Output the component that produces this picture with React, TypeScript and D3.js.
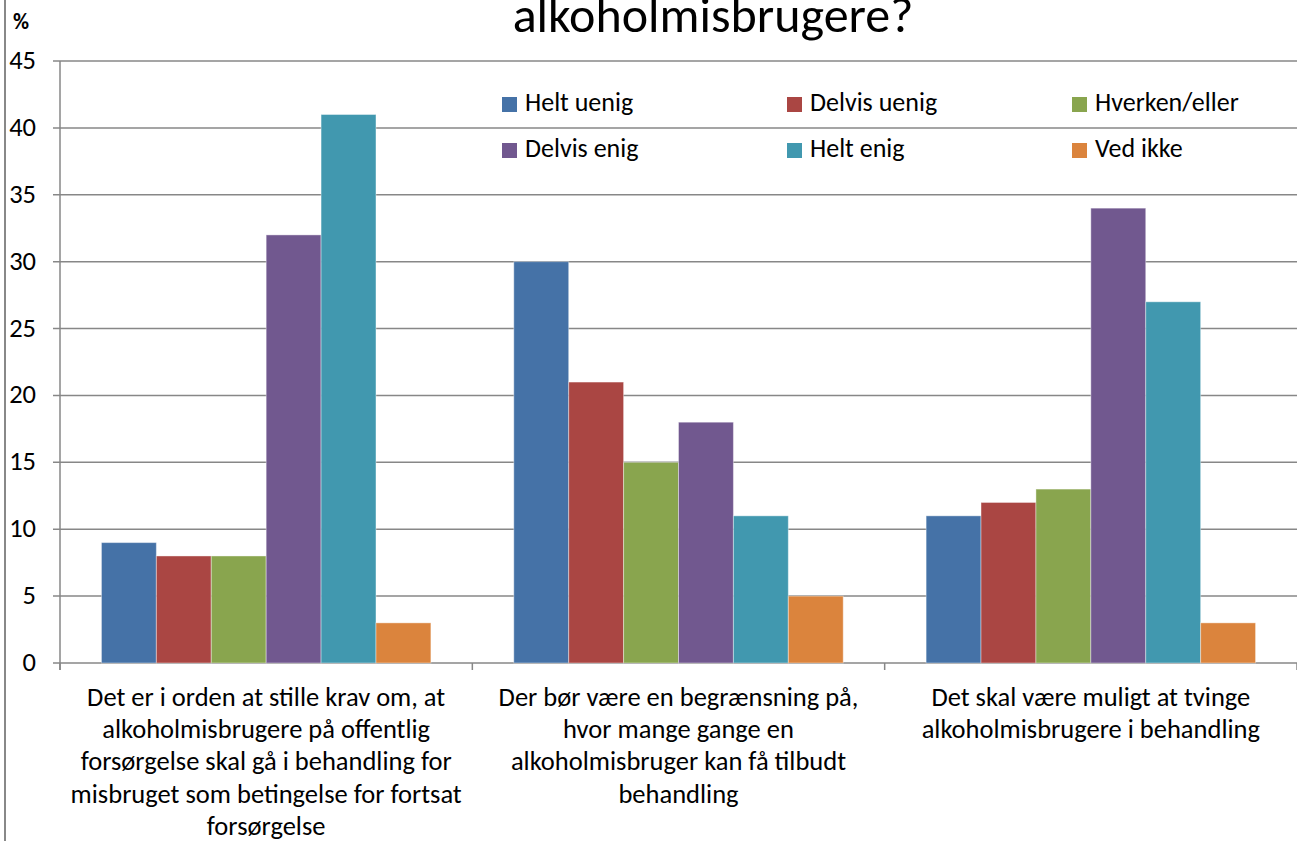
import * as d3 from "d3";

const categories = [
  ["Det er i orden at stille krav om, at", "alkoholmisbrugere på offentlig", "forsørgelse skal gå i behandling for", "misbruget som betingelse for fortsat", "forsørgelse"],
  ["Der bør være en begrænsning på,", "hvor mange gange en", "alkoholmisbruger kan få tilbudt", "behandling"],
  ["Det skal være muligt at tvinge", "alkoholmisbrugere i behandling"],
];
const seriesNames = ["Helt uenig", "Delvis uenig", "Hverken/eller", "Delvis enig", "Helt enig", "Ved ikke"];
const helt_uenig = [9, 30, 11];
const delvis_uenig = [8, 21, 12];
const hverken = [8, 15, 13];
const delvis_enig = [32, 18, 34];
const helt_enig = [41, 11, 27];
const ved_ikke = [3, 5, 3];
const seriesValues = [helt_uenig, delvis_uenig, hverken, delvis_enig, helt_enig, ved_ikke];
const colors = ["#4572A7", "#AA4643", "#89A54E", "#71588F", "#4198AF", "#DB843D"];
const yTicks = [0, 5, 10, 15, 20, 25, 30, 35, 40, 45];

const W = 1297, H = 841;
const left = 60, right = 1297, top = 61, bottom = 663;
const font = "Carlito, 'Noto Sans', 'Open Sans', sans-serif";

export default function App() {
  const x0 = d3.scaleBand<number>().domain(d3.range(categories.length)).range([left, right]);
  const x1 = d3.scaleBand<number>().domain(d3.range(seriesNames.length)).range([0, x0.bandwidth()]).paddingOuter(0.755);
  const y = d3.scaleLinear().domain([0, 45]).range([bottom, top]);

  // legend layout
  const legendCols = [502, 787, 1072];
  const legendRows = [111, 157];

  return (
    <svg width={W} height={H} style={{ position: "fixed", left: 0, top: 0, background: "#fff" }} fontFamily={font}>
      <line x1={5} x2={5} y1={0} y2={H} stroke="#888" strokeWidth={2} />
      <text x={713} y={32} fontSize={50} textAnchor="middle" fill="#000">alkoholmisbrugere?</text>
      <text x={13} y={29} fontSize={22} fontWeight="bold" fill="#000">%</text>

      {yTicks.map((t) => (
        <g key={t}>
          <line x1={53} x2={right} y1={y(t)} y2={y(t)} stroke="#878787" strokeWidth={1.5} />
          <text x={36} y={y(t) + 8} fontSize={26.5} textAnchor="end" fill="#000">{t}</text>
        </g>
      ))}
      <line x1={left} x2={left} y1={top} y2={bottom + 7} stroke="#878787" strokeWidth={1.5} />
      {[0, 1, 2, 3].map((i) => {
        const xx = i < 3 ? (x0(i) as number) : right;
        return <line key={i} x1={xx} x2={xx} y1={bottom} y2={bottom + 7} stroke="#878787" strokeWidth={1.5} />;
      })}

      {seriesValues.map((vals, s) =>
        vals.map((v, c) => (
          <rect
            key={`${s}-${c}`}
            x={(x0(c) as number) + (x1(s) as number)}
            y={y(v)}
            width={x1.bandwidth()}
            height={bottom - y(v)}
            fill={colors[s]}
            stroke="#ffffff"
            strokeOpacity={0.4}
            strokeWidth={1}
          />
        ))
      )}

      {categories.map((lines, c) => (
        <text key={c} fontSize={26.5} textAnchor="middle" fill="#000">
          {lines.map((l, i) => (
            <tspan key={i} x={(x0(c) as number) + x0.bandwidth() / 2} y={706 + i * 32.2}>{l}</tspan>
          ))}
        </text>
      ))}

      {seriesNames.map((n, i) => {
        const lx = legendCols[i % 3];
        const ly = legendRows[Math.floor(i / 3)];
        return (
          <g key={n}>
            <rect x={lx} y={ly - 14} width={15} height={15} fill={colors[i]} />
            <text x={lx + 23} y={ly} fontSize={26} fill="#000">{n}</text>
          </g>
        );
      })}
    </svg>
  );
}
